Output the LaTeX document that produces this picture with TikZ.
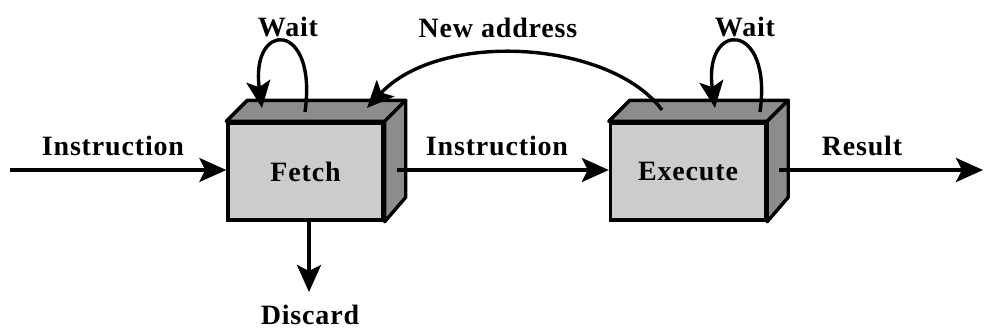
\documentclass[tikz,border=0pt]{standalone}
\usepackage{fontspec}
\setmainfont{Liberation Serif}[LetterSpace=3]
\usetikzlibrary{arrows.meta,calc}
\begin{document}
\begin{tikzpicture}[x=1pt,y=-1pt,
  line width=3.4pt,
  lbl/.style={font=\fontsize{28}{30}\selectfont\bfseries, inner sep=0pt},
  face/.style={fill=black!20, draw=black, line width=3.4pt, minimum width=155pt, minimum height=97pt, inner sep=0pt,
               font=\fontsize{28}{30}\selectfont\bfseries},
  shade/.style={fill=black!45, draw=black, line width=3.4pt, line join=round},
  arr/.style={-{Stealth[length=27pt,width=24pt,inset=6pt]}},
]
\useasboundingbox (0,0) rectangle (985,329);

% the two stages, drawn as boxes with a top and a side face
\node[face] (fetch) at (305.5,171.5) {Fetch};
\node[face] (exec) at (688,171.5) {Execute};
\foreach \b in {fetch,exec}{
  \draw[shade] (\b.north west) -- ++(21,-21) -- ($(\b.north east)+(21,-21)$) -- (\b.north east) -- cycle;
  \draw[shade] (\b.north east) -- ++(21,-21) -- ++(0,97) -- (\b.south east) -- cycle;
}

% free ends of the connectors
\coordinate (in) at (10,170);
\coordinate (out) at (983,170);
\coordinate (disc) at (309,292);
\coordinate (fs) at (305,112);
\coordinate (ft) at (262,108);
\coordinate (es) at (760,112);
\coordinate (et) at (715,108);
\coordinate (ns) at (662,110);
\coordinate (nt) at (367,108);

% straight flows
\draw[arr] (in) -- (fetch.west |- in);
\draw[arr] ($(fetch.east)+(12,-1.5)$) -- (exec.west |- in);
\draw[arr] ($(exec.east)+(12,-1.5)$) -- (out);
\draw[arr] ($(fetch.south)+(3.5,0)$) -- (disc);

% wait loops and the new-address path
\draw[arr] (fs) .. controls (318,20) and (250,20) .. (ft);
\draw[arr] (es) .. controls (773,20) and (703,20) .. (et);
\draw[arr] (ns) .. controls (610,40) and (440,30) .. (nt);

% labels
\node[lbl] at (113,146) {Instruction};
\node[lbl] at (497,146) {Instruction};
\node[lbl] at (862,146) {Result};
\node[lbl] at (310,315) {Discard};
\node[lbl] at (288,27) {Wait};
\node[lbl] at (745,27) {Wait};
\node[lbl] at (498,28) {New address};
\end{tikzpicture}
\end{document}
